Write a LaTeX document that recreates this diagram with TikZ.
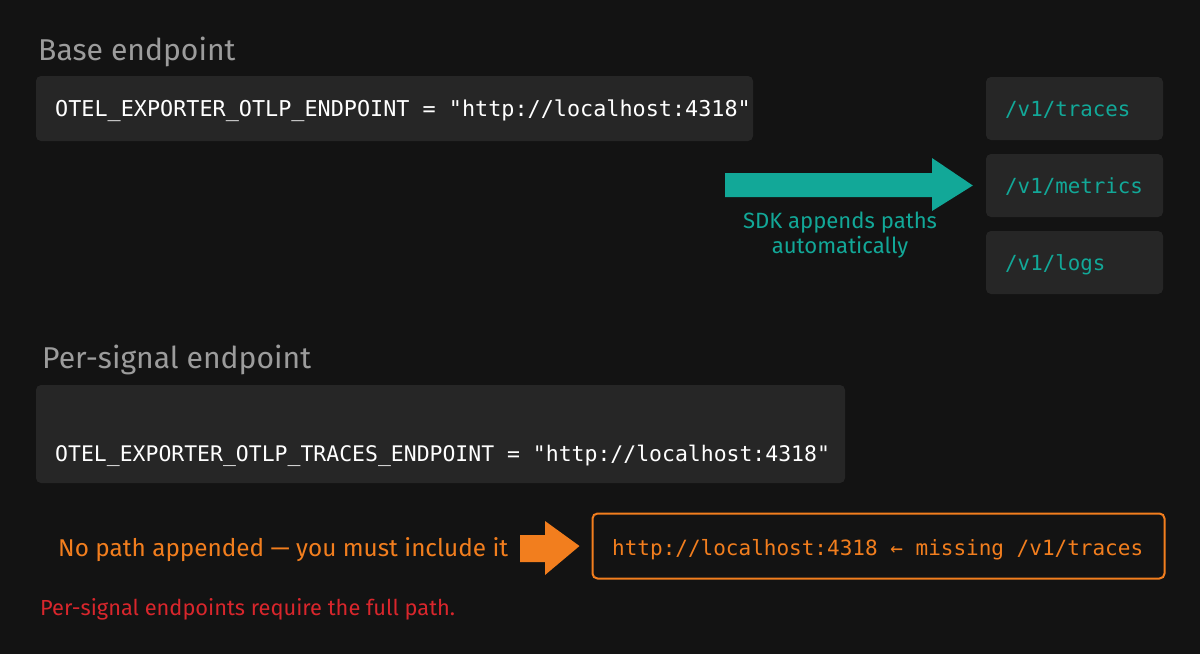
\documentclass[tikz,border=0pt]{standalone}
\usepackage{fontspec}
\setmainfont{Fira Sans}
\newfontfamily\monof{DejaVu Sans Mono}
\definecolor{bgc}{HTML}{131313}
\definecolor{boxc}{HTML}{262626}
\definecolor{titc}{HTML}{9C9C9C}
\definecolor{tealc}{HTML}{12A898}
\definecolor{orc}{HTML}{F27E1E}
\definecolor{redc}{HTML}{D9262C}
\begin{document}
\begin{tikzpicture}[x=1pt,y=-1pt,
  box/.style={fill=boxc, rounded corners=5pt, draw=none, inner sep=0pt},
  title/.style={anchor=base west, inner sep=0pt, text=titc, font=\fontsize{30.1}{34}\selectfont},
  code/.style={anchor=base west, inner sep=0pt, text=white, font=\monof\fontsize{21.8}{24}\selectfont},
  pathtxt/.style={anchor=base west, inner sep=0pt, text=tealc, font=\monof\fontsize{20.8}{24}\selectfont},
]
\useasboundingbox (0,0) rectangle (1200,654);
\fill[bgc] (0,0) rectangle (1200,654);

% Base endpoint
\node[title] (t1) at (38,60) {Base endpoint};
\node[box, minimum width=717pt, minimum height=65pt] (b1) at (394.5,108.5) {};
\node[code] (c1) at (55,116) {OTEL\_EXPORTER\_OTLP\_ENDPOINT = "http://localhost:4318"};

% path boxes
\node[box, minimum width=177pt, minimum height=63pt] (p1) at (1074.5,108.5) {};
\node[box, minimum width=177pt, minimum height=63pt] (p2) at (1074.5,185.5) {};
\node[box, minimum width=177pt, minimum height=63pt] (p3) at (1074.5,262.5) {};
\node[pathtxt] (pt1) at (1005,116) {/v1/traces};
\node[pathtxt] (pt2) at (1005,193) {/v1/metrics};
\node[pathtxt] (pt3) at (1005,270) {/v1/logs};

% teal arrow
\coordinate (tip) at ([xshift=-13pt]p2.west);
\fill[tealc] (725,173) -- (932,173) -- (932,158) -- (tip) -- (932,211) -- (932,197) -- (725,197) -- cycle;
\node[anchor=base, text=tealc, inner sep=0pt, font=\fontsize{22.1}{25}\selectfont] (sdk1) at (840,228) {SDK appends paths};
\node[anchor=base, text=tealc, inner sep=0pt, font=\fontsize{22.1}{25}\selectfont] (sdk2) at (840,253) {automatically};

% Per-signal endpoint
\node[title] (t2) at (42,368) {Per-signal endpoint};
\node[box, minimum width=809pt, minimum height=98pt] (b2) at (440.5,434) {};
\node[code, font=\monof\fontsize{21.45}{24}\selectfont] (c2) at (55,461) {OTEL\_EXPORTER\_OTLP\_TRACES\_ENDPOINT = "http://localhost:4318"};

% orange row
\node[anchor=base west, inner sep=0pt, text=orc, font=\fontsize{24.3}{28}\selectfont] (no) at (58,556) {No path appended — you must include it};
\node[draw=orc, line width=2pt, rounded corners=5pt, fill=bgc, minimum width=572pt, minimum height=65pt, inner sep=0pt] (ob) at (878.5,546) {};
\node[anchor=base west, inner sep=0pt, text=orc, font=\monof\fontsize{21}{24}\selectfont] (obt) at (612,555) {http://localhost:4318 ← missing /v1/traces};
\coordinate (otip) at ([xshift=-12pt]ob.west);
\fill[orc] (520,535) -- (545,535) -- (545,521) -- (otip) -- (545,575) -- (545,562) -- (520,562) -- cycle;

% red note
\node[anchor=base west, inner sep=0pt, text=redc, font=\fontsize{21.8}{24}\selectfont] (note) at (40,615) {Per-signal endpoints require the full path.};
\end{tikzpicture}
\end{document}
